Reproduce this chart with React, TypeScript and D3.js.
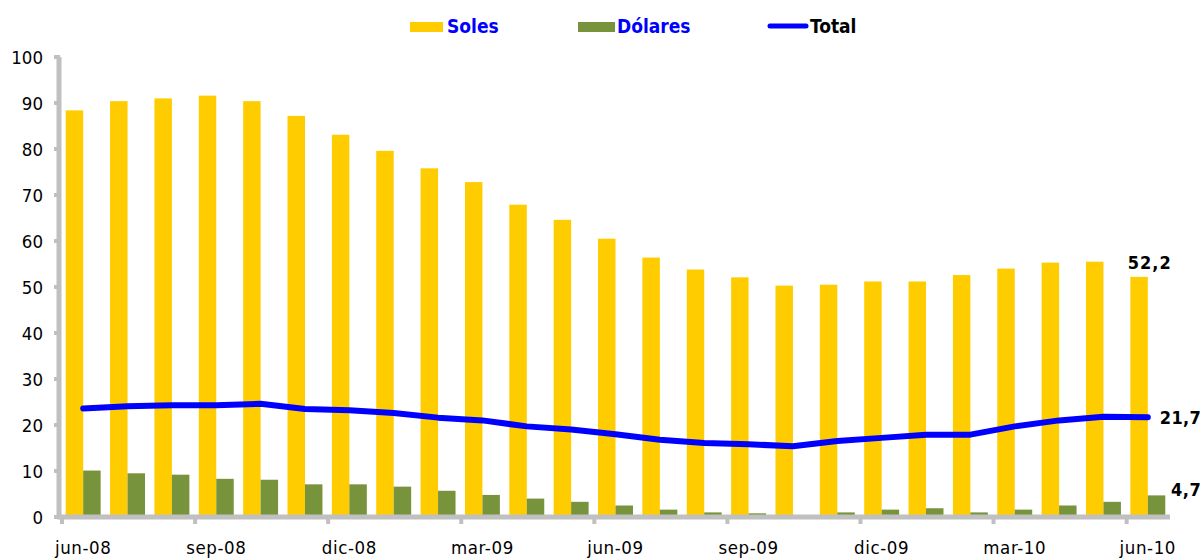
import React from 'react';
import * as d3 from 'd3';

const months = [
  'jun-08', 'jul-08', 'ago-08', 'sep-08', 'oct-08', 'nov-08', 'dic-08', 'ene-09', 'feb-09',
  'mar-09', 'abr-09', 'may-09', 'jun-09', 'jul-09', 'ago-09', 'sep-09', 'oct-09', 'nov-09',
  'dic-09', 'ene-10', 'feb-10', 'mar-10', 'abr-10', 'may-10', 'jun-10',
];
const soles = [
  88.4, 90.4, 91.0, 91.6, 90.4, 87.2, 83.1, 79.6, 75.8, 72.8, 67.9, 64.6, 60.5,
  56.4, 53.8, 52.1, 50.3, 50.5, 51.2, 51.2, 52.6, 54.0, 55.3, 55.5, 52.2,
];
const dolares = [
  10.1, 9.5, 9.2, 8.3, 8.1, 7.1, 7.1, 6.6, 5.7, 4.8, 4.0, 3.3, 2.5,
  1.6, 1.0, 0.8, 0.3, 1.0, 1.6, 1.9, 1.0, 1.6, 2.5, 3.3, 4.7,
];
const total = [
  23.6, 24.1, 24.3, 24.3, 24.6, 23.5, 23.2, 22.6, 21.6, 21.0, 19.7, 19.0, 18.0,
  16.8, 16.1, 15.8, 15.4, 16.5, 17.2, 17.9, 17.9, 19.7, 21.0, 21.8, 21.7,
];
const tickMonths = ['jun-08', 'sep-08', 'dic-08', 'mar-09', 'jun-09', 'sep-09', 'dic-09', 'mar-10', 'jun-10'];
const yTicks = [0, 10, 20, 30, 40, 50, 60, 70, 80, 90, 100];
const series = ['Soles', 'Dólares'];

const W = 1203;
const H = 559;
const FONT = "'DejaVu Sans Condensed', 'DejaVu Sans', sans-serif";
const YELLOW = '#FFCC00';
const GREEN = '#77933C';
const BLUE = '#0000FF';
const AXIS = '#C0C0C0';

const fmt = (v: number) => String(v).replace('.', ',');

export default function App() {
  const x = d3.scaleBand<string>().domain(months).range([61, 1170]).paddingInner(0);
  const sub = d3.scaleBand<string>().domain(series).range([0, x.bandwidth()]).paddingInner(0).paddingOuter(0.27);
  const y = d3.scaleLinear().domain([0, 100]).range([517, 57]);
  const cx = (m: string) => (x(m) as number) + x.bandwidth() / 2;

  const line = d3.line<number>()
    .x((_, i) => cx(months[i]))
    .y(d => y(d));

  const lastI = months.length - 1;
  const last = months[lastI];

  return (
    <svg width={W} height={H} style={{ position: 'absolute', left: 0, top: 0, background: '#fff' }}
      fontFamily={FONT}>
      {/* legend */}
      <g fontSize={19} fontWeight="bold" style={{ fontStretch: 'condensed' }}>
        <rect x={410} y={22} width={33} height={10} fill={YELLOW} />
        <text x={447} y={27} dominantBaseline="middle" fill={BLUE}>Soles</text>
        <rect x={578} y={22} width={37} height={10} fill={GREEN} />
        <text x={617} y={27} dominantBaseline="middle" fill={BLUE}>Dólares</text>
        <line x1={770} x2={806} y1={26} y2={26} stroke={BLUE} strokeWidth={5} strokeLinecap="round" />
        <text x={810} y={27} dominantBaseline="middle" fill="#000">Total</text>
      </g>

      {/* bars */}
      {months.map((m, i) => (
        <g key={m} transform={`translate(${x(m)},0)`}>
          <rect x={sub('Soles')} y={y(soles[i])} width={sub.bandwidth()} height={y(0) - y(soles[i])} fill={YELLOW} />
          <rect x={sub('Dólares')} y={y(dolares[i])} width={sub.bandwidth()} height={y(0) - y(dolares[i])} fill={GREEN} />
        </g>
      ))}

      {/* axes */}
      <line x1={59} x2={59} y1={y(100)} y2={y(0) + 2} stroke={AXIS} strokeWidth={5} />
      {yTicks.map(t => (
        <line key={t} x1={54} x2={60} y1={y(t)} y2={y(t)} stroke={AXIS} strokeWidth={4} />
      ))}
      <line x1={57} x2={1170} y1={y(0)} y2={y(0)} stroke={AXIS} strokeWidth={5} />
      {tickMonths.map(m => (
        <line key={m} x1={(x(m) as number) + 1} x2={(x(m) as number) + 1} y1={y(0)} y2={y(0) + 7} stroke={AXIS} strokeWidth={4} />
      ))}

      {/* tick labels */}
      <g fontSize={18.5} fill="#000" style={{ fontStretch: 'condensed' }}>
        {yTicks.map(t => (
          <text key={t} x={43} y={y(t)} textAnchor="end" dominantBaseline="central">{t}</text>
        ))}
        {tickMonths.map(m => (
          <text key={m} x={cx(m)} y={554} textAnchor="middle" letterSpacing={0.6}>{m}</text>
        ))}
      </g>

      {/* total line */}
      <path d={line(total) || ''} fill="none" stroke={BLUE} strokeWidth={6} strokeLinejoin="round" strokeLinecap="round" />

      {/* data labels */}
      <g fontSize={18} fontWeight="bold" fill="#000" style={{ fontStretch: 'condensed' }}>
        <text x={cx(last) + 2} y={y(soles[lastI]) - 8} textAnchor="middle" letterSpacing={1}>{fmt(soles[lastI])}</text>
        <text x={cx(last) + 12} y={y(total[lastI])} dominantBaseline="central" letterSpacing={0.3}>{fmt(total[lastI])}</text>
        <text x={(x(last) as number) + x.bandwidth() + 1} y={y(dolares[lastI]) + 1} letterSpacing={0.5}>{fmt(dolares[lastI])}</text>
      </g>
    </svg>
  );
}
